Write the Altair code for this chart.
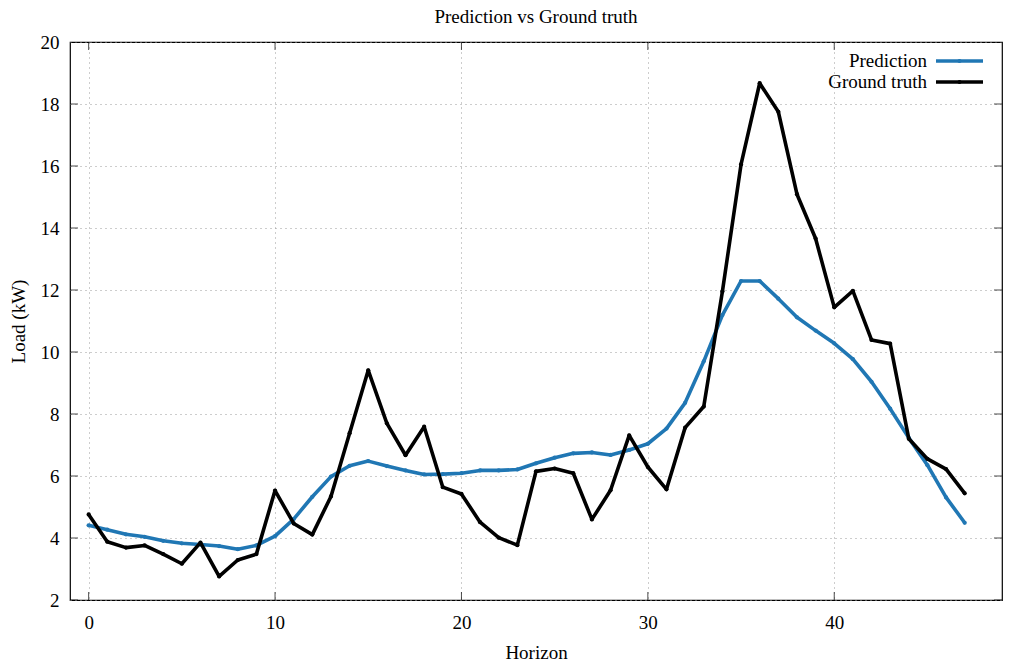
import altair as alt
import pandas as pd

# ---- data ----
horizon = list(range(48))
prediction = [4.41, 4.27, 4.12, 4.04, 3.91, 3.83, 3.79, 3.74, 3.64, 3.76,
              4.06, 4.61, 5.33, 5.98, 6.33, 6.48, 6.32, 6.18, 6.05, 6.06,
              6.09, 6.18, 6.18, 6.21, 6.41, 6.59, 6.73, 6.76, 6.68, 6.84,
              7.04, 7.53, 8.36, 9.70, 11.19, 12.29, 12.29, 11.72, 11.12, 10.69,
              10.28, 9.77, 9.04, 8.17, 7.23, 6.35, 5.31, 4.49]
ground_truth = [4.76, 3.88, 3.69, 3.76, 3.48, 3.17, 3.85, 2.76, 3.29, 3.48,
                5.53, 4.47, 4.11, 5.34, 7.38, 9.41, 7.70, 6.67, 7.59, 5.64,
                5.42, 4.51, 4.01, 3.77, 6.15, 6.24, 6.09, 4.60, 5.54, 7.31,
                6.29, 5.57, 7.56, 8.24, 11.95, 16.05, 18.67, 17.75, 15.09, 13.66,
                11.44, 11.97, 10.39, 10.27, 7.20, 6.55, 6.22, 5.44]
series_names = ["Prediction", "Ground truth"]
x_ticks = [0, 10, 20, 30, 40]
y_ticks = [2, 4, 6, 8, 10, 12, 14, 16, 18, 20]
x_domain = [-1, 49]
y_domain = [2, 20]

FONT = "Liberation Serif"
BLUE = "#2077b4"
BLACK = "#000000"
colors = [BLUE, BLACK]

df_pred = pd.DataFrame({"horizon": horizon, "load": prediction})
df_gt = pd.DataFrame({"horizon": horizon, "load": ground_truth})
df_xt = pd.DataFrame({"horizon": x_ticks})
df_yt = pd.DataFrame({"load": y_ticks})

xs = alt.Scale(domain=x_domain, nice=False, zero=False)
ys = alt.Scale(domain=y_domain, nice=False, zero=False)
x_axis = alt.Axis(values=x_ticks, title="Horizon", grid=True, ticks=False, domain=False,
                  labelPadding=13, titleY=58, titleBaseline="alphabetic")
y_axis = alt.Axis(values=y_ticks, title="Load (kW)", grid=True, ticks=False, domain=False,
                  labelPadding=11, titleX=-52, titleBaseline="middle")


def X(f="horizon"):
    return alt.X(f, type="quantitative", scale=xs, axis=x_axis)


def Y(f="load"):
    return alt.Y(f, type="quantitative", scale=ys, axis=y_axis)


def series_layer(df, color):
    base = alt.Chart(df).encode(x=X(), y=Y())
    line = base.mark_line(color=color, strokeWidth=3.6, strokeJoin="round")
    pts = base.mark_point(color=color, filled=True, opacity=1, size=18)
    return line + pts


# inward ticks on all four sides (clipped half outside)
tick_bottom = alt.Chart(df_xt).mark_tick(orient="vertical", size=16, thickness=1,
                                          color="black", clip=True).encode(x=X(), y=alt.datum(y_domain[0]))
tick_top = alt.Chart(df_xt).mark_tick(orient="vertical", size=16, thickness=1,
                                       color="black", clip=True).encode(x=X(), y=alt.datum(y_domain[1]))
tick_left = alt.Chart(df_yt).mark_tick(orient="horizontal", size=16, thickness=1,
                                        color="black", clip=True).encode(y=Y(), x=alt.datum(x_domain[0]))
tick_right = alt.Chart(df_yt).mark_tick(orient="horizontal", size=16, thickness=1,
                                         color="black", clip=True).encode(y=Y(), x=alt.datum(x_domain[1]))

# gnuplot-style key: label on the left, line sample on the right
legend_layers = []
for i, (name, col) in enumerate(zip(series_names, colors)):
    ldf = pd.DataFrame({"series": [name]})
    yy = 19 + 21 * i
    legend_layers.append(alt.Chart(ldf).mark_text(align="right", baseline="middle", font=FONT,
                                                  fontSize=19, color="black")
                         .encode(x=alt.value(857), y=alt.value(yy), text="series:N"))
    legend_layers.append(alt.Chart(ldf).mark_rule(color=col, strokeWidth=3.6)
                         .encode(x=alt.value(866), x2=alt.value(913), y=alt.value(yy)))
    legend_layers.append(alt.Chart(ldf).mark_point(color=col, filled=True, opacity=1, size=18)
                         .encode(x=alt.value(889.5), y=alt.value(yy)))

chart = alt.layer(
    series_layer(df_pred, BLUE),
    series_layer(df_gt, BLACK),
    tick_bottom, tick_top, tick_left, tick_right,
    *legend_layers,
).properties(
    width=932,
    height=558,
    background="white",
    title=alt.Title("Prediction vs Ground truth", font=FONT, fontSize=19, fontWeight="normal",
                    color="black", anchor="middle", offset=6),
    autosize=alt.AutoSizeParams(type="none"),
    padding={"left": 62, "top": 34, "right": 20, "bottom": 64},
).configure_view(
    stroke="black", strokeWidth=1.2
).configure_axis(
    labelFont=FONT, labelFontSize=19, labelColor="black",
    titleFont=FONT, titleFontSize=19, titleFontWeight="normal", titleColor="black",
    gridColor="#9a9a9a", gridDash=[1, 4], gridWidth=1, gridOpacity=1,
)

chart.save("out.html", embed_options={"renderer": "svg", "actions": False})
